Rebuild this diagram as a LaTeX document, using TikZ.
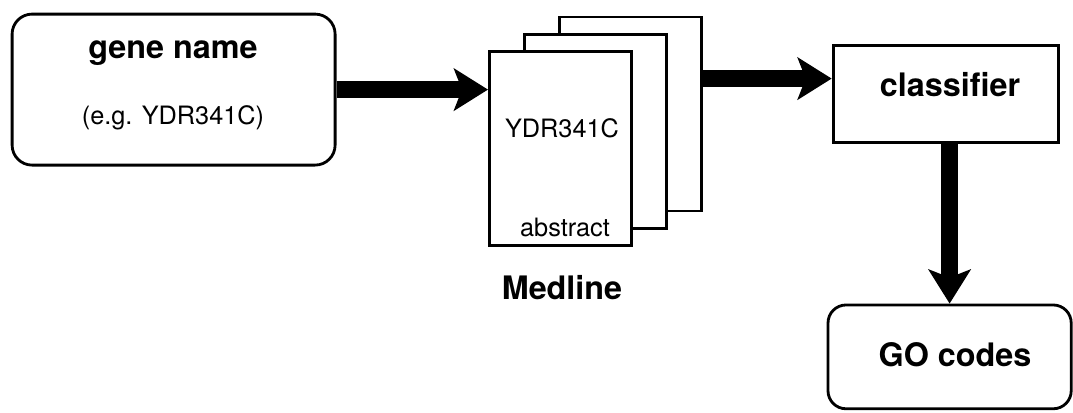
\documentclass[tikz,border=0pt]{standalone}
\usepackage{fontspec}
\setmainfont{TeX Gyre Heros}
\usetikzlibrary{arrows.meta}
\tikzset{
roundbox/.style = {draw, line width = 2pt, rounded corners = 0.5cm, inner sep = 0pt},
plainbox/.style = {draw, line width = 2pt, inner sep = 0pt},
pagebox/.style = {draw, fill = white, line width = 2pt, inner sep = 0pt, minimum width = 3.55cm, minimum height = 4.85cm, anchor = south west},
bigarrow/.style = {line width = 0.44cm, -{Stealth[length = 0.85cm, width = 1.05cm, inset = 0.2cm]}},
boldtext/.style = {font = \fontsize{23}{27}\selectfont\bfseries},
plaintext/.style = {font = \fontsize{18}{22}\selectfont}
}

\begin{document}
\begin{tikzpicture}
\useasboundingbox (0,0) rectangle (26.825,10.3);
\node [roundbox, minimum width = 8.075cm, minimum height = 3.775cm] (gene) at (4.34,8.06) {};
\node [boldtext] (genename) at (4.325,8.975) {gene name};
\node [plaintext] (geneeg) at (4.325,7.35) {(e.g. YDR341C)};
\node [pagebox] (back) at (13.95,4.99) {};
\node [pagebox] (mid) at (13.075,4.56) {};
\node [pagebox] (front) at (12.2,4.13) {};
\node [plaintext] (docid) at (14.05,7.1) {YDR341C};
\node [plaintext] (docabs) at (14.125,4.625) {abstract};
\node [boldtext] (medline) at (14.05,3.1) {Medline};
\node [plainbox, minimum width = 5.625cm, minimum height = 2.425cm] (clsf) at (23.64,7.96) {};
\node [boldtext] (clsflabel) at (23.75,8.175) {classifier};
\node [roundbox, rounded corners = 0.45cm, minimum width = 6.08cm, minimum height = 2.595cm] (go) at (23.74,1.378) {};
\node [boldtext] (golabel) at (23.875,1.425) {GO codes};
\draw [bigarrow] (gene.east) -- (gene.east -| front.west);
\draw [bigarrow] ([yshift = 0.885cm]back.east) -- ([yshift = 0.885cm]back.east -| clsf.west);
\draw [bigarrow] (clsf.south -| go.north) -- (go.north);
\end{tikzpicture}
\end{document}
